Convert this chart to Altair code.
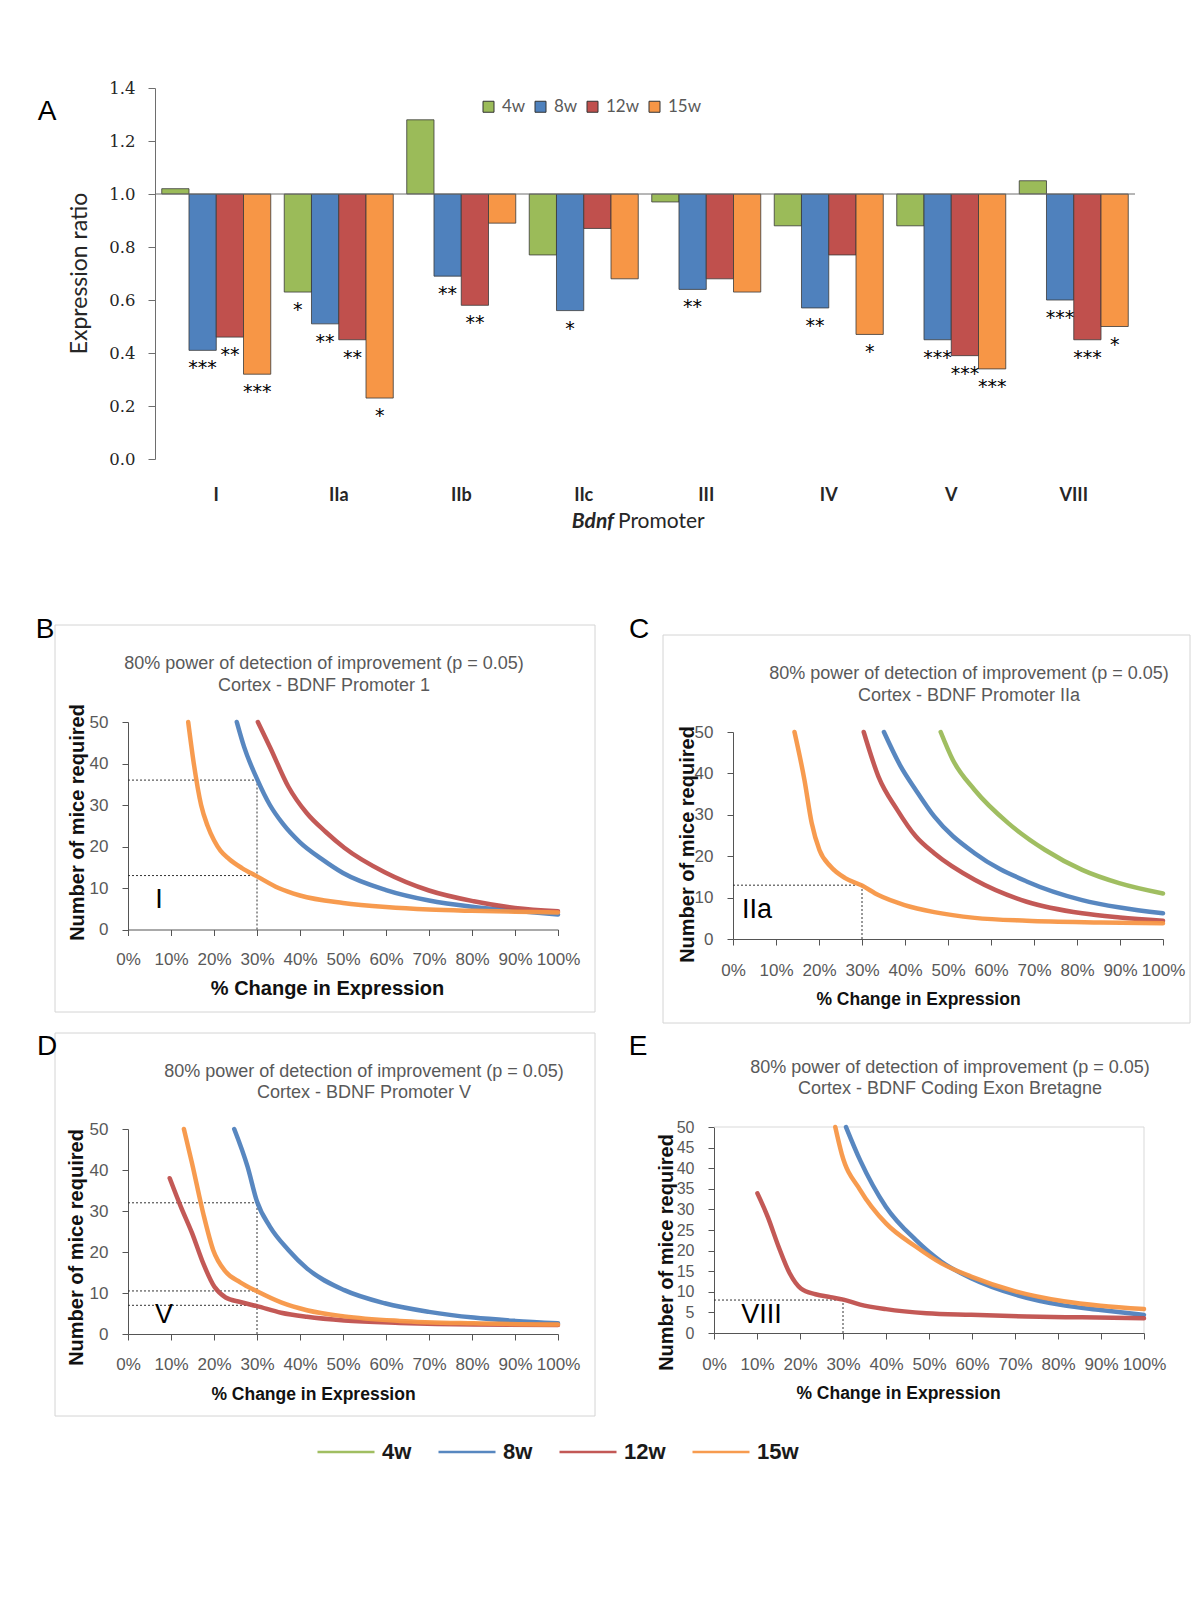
import altair as alt
import pandas as pd

W, H = 1184, 1560

FONT_SANS = "Liberation Sans"
FONT_CAL = "Lato"
FONT_SERIF = "DejaVu Serif"
AXIS_GREY = "#555555"
LABEL_GREY = "#595959"

# ---------------- panel A data ----------------
PROMOTERS = ["I", "IIa", "IIb", "IIc", "III", "IV", "V", "VIII"]
AGES = ["4w", "8w", "12w", "15w"]
AGE_COLORS = ["#9BBB59", "#4F81BD", "#C0504D", "#F79646"]

RATIO_4W = [1.02, 0.63, 1.28, 0.77, 0.97, 0.88, 0.88, 1.05]
RATIO_8W = [0.41, 0.51, 0.69, 0.56, 0.64, 0.57, 0.45, 0.60]
RATIO_12W = [0.46, 0.45, 0.58, 0.87, 0.68, 0.77, 0.39, 0.45]
RATIO_15W = [0.32, 0.23, 0.89, 0.68, 0.63, 0.47, 0.34, 0.50]

STARS_4W = ["", "*", "", "", "", "", "", ""]
STARS_8W = ["***", "**", "**", "*", "**", "**", "***", "***"]
STARS_12W = ["**", "**", "**", "", "", "", "***", "***"]
STARS_15W = ["***", "*", "", "", "", "*", "***", "*"]

RATIO_TICKS = [0.0, 0.2, 0.4, 0.6, 0.8, 1.0, 1.2, 1.4]
PCT_TICKS = [0, 10, 20, 30, 40, 50, 60, 70, 80, 90, 100]
MICE_TICKS = [0, 10, 20, 30, 40, 50]
MICE_TICKS_FINE = [0, 5, 10, 15, 20, 25, 30, 35, 40, 45, 50]

# ---------------- panel B (Promoter I) ----------------
B_8W_X = [25.3, 27, 30, 33, 36, 40, 45, 50, 60, 70, 80, 90, 100]
B_8W_Y = [50, 44, 36.3, 30, 25.5, 21, 17, 13.6, 9.5, 7.0, 5.5, 4.5, 3.6]
B_12W_X = [30.2, 33, 37.3, 41.6, 46, 50.3, 59.7, 70, 80.4, 90, 100]
B_12W_Y = [50, 44, 34.4, 28, 23.5, 19.7, 13.8, 9.4, 6.8, 5.2, 4.4]
B_15W_X = [14, 15.3, 17, 18.5, 20, 21.5, 23.5, 26.5, 30, 35, 40, 50, 60, 70, 80, 90, 100]
B_15W_Y = [50, 40, 30, 25, 21.5, 19, 17, 14.8, 12.8, 10, 8.2, 6.4, 5.4, 4.8, 4.5, 4.3, 4.1]
B_REF_X = 30
B_REF_Y = [36, 13]

# ---------------- panel C (Promoter IIa) ----------------
C_4W_X = [48.3, 51.1, 56.2, 64, 72.6, 81.2, 89.8, 100]
C_4W_Y = [50, 43.3, 36, 28, 21.5, 16.7, 13.5, 11.0]
C_8W_X = [35.1, 39, 42.5, 46.8, 56.2, 68.3, 81.2, 90, 100]
C_8W_Y = [50, 41.7, 36, 29.6, 20.7, 13.9, 9.4, 7.6, 6.2]
C_12W_X = [30.4, 33.8, 38.2, 42.5, 46.8, 56.2, 68.3, 81.2, 90, 100]
C_12W_Y = [50, 39.3, 31.2, 24.8, 20.7, 14.3, 9.0, 6.2, 5.2, 4.4]
C_15W_X = [14.3, 16.6, 18.3, 20.1, 22.7, 26.1, 30, 33.8, 39.9, 46.8, 56.2, 68.3, 85.5, 100]
C_15W_Y = [50, 38.5, 28, 21.5, 17.5, 14.7, 12.9, 10.6, 8.2, 6.5, 5.1, 4.4, 4.0, 3.8]
C_REF_X = 30
C_REF_Y = [13]

# ---------------- panel D (Promoter V) ----------------
D_8W_X = [24.7, 27.8, 30, 33, 37.3, 41.6, 50.3, 59.7, 70, 80.4, 90, 100]
D_8W_Y = [50, 40.8, 32.3, 26.2, 20.5, 16, 10.7, 7.5, 5.4, 4.0, 3.2, 2.6]
D_12W_X = [9.7, 12.3, 14.9, 17.5, 20.1, 22.7, 26.1, 30, 35.6, 41.6, 50.3, 63.2, 80.4, 100]
D_12W_Y = [38, 31, 24.6, 17.2, 11.5, 8.9, 7.8, 6.8, 5.2, 4.2, 3.3, 2.7, 2.3, 2.2]
D_15W_X = [13, 14.9, 17.5, 19.8, 22.7, 26.1, 30, 35.6, 41.6, 50.3, 63.2, 80.4, 100]
D_15W_Y = [50, 41.6, 29.4, 20.5, 15.2, 12.6, 10.4, 7.7, 5.8, 4.3, 3.2, 2.6, 2.3]
D_REF_X = 30
D_REF_Y = [32, 10.5, 7]

# ---------------- panel E (Coding exon) ----------------
E_8W_X = [30.7, 34, 40, 46.9, 52.9, 59.8, 70.1, 81.3, 89.9, 100]
E_8W_Y = [50, 41.9, 30.6, 22.6, 17.3, 13.3, 9.3, 6.7, 5.6, 4.4]
E_12W_X = [10.1, 12.5, 15, 17.6, 20.2, 23.6, 27.1, 30.1, 34, 40, 49.4, 59.8, 72.7, 85.6, 100]
E_12W_Y = [33.9, 28.2, 21, 14.5, 10.8, 9.4, 8.7, 8.1, 6.9, 5.8, 4.8, 4.4, 4.0, 3.8, 3.6]
E_15W_X = [28.2, 29.7, 34, 40, 46.9, 52.9, 59.8, 70.1, 81.3, 89.9, 100]
E_15W_Y = [50, 43.5, 34.7, 26.6, 21, 16.9, 13.7, 10.1, 7.7, 6.6, 5.8]
E_REF_X = 30
E_REF_Y = [8]

DUMMY = pd.DataFrame({"k": [0]})


# ---------------- panel A ----------------
rows = []
for age, vals, stars in zip(AGES, [RATIO_4W, RATIO_8W, RATIO_12W, RATIO_15W],
                            [STARS_4W, STARS_8W, STARS_12W, STARS_15W]):
    for p, v, s in zip(PROMOTERS, vals, stars):
        rows.append({"promoter": p, "age": age, "ratio": v, "stars": s, "base": 1.0})
df_a = pd.DataFrame(rows)


def xa_scale():
    return alt.Scale(domain=PROMOTERS, range=[147, 1127], paddingInner=0.11, paddingOuter=0.055)


def ya_scale():
    return alt.Scale(domain=[0, 1.4], range=[451, 80], nice=False, zero=False)


def xo_scale():
    return alt.Scale(domain=AGES, paddingInner=0, paddingOuter=0)


xA_axis = alt.Axis(orient="bottom", offset=451 - H, title=None, domain=False, ticks=False,
                   labelPadding=27, labelAngle=0, labelFont=FONT_CAL, labelFontSize=18,
                   labelFontWeight="bold", labelColor="#262626", grid=False)
yA_axis = alt.Axis(orient="left", offset=-147, values=RATIO_TICKS, format=".1f", tickSize=7,
                   tickColor="#6e6e6e", domainColor="#6e6e6e", labelPadding=13,
                   labelFont=FONT_SERIF, labelFontSize=16.5, labelColor="#262626", grid=False,
                   title="Expression ratio", titleX=-76, titleY=265, titleAngle=270,
                   titleAlign="center", titleBaseline="middle", titleFont=FONT_CAL,
                   titleFontSize=23, titleFontWeight="normal", titleColor="#262626")

bars = alt.Chart(df_a).mark_bar(stroke="#3a3a3a", strokeWidth=0.8).encode(
    x=alt.X("promoter:N", sort=PROMOTERS, scale=xa_scale(), axis=xA_axis),
    xOffset=alt.XOffset("age:N", sort=AGES, scale=xo_scale()),
    y=alt.Y("ratio:Q", scale=ya_scale(), axis=yA_axis),
    y2=alt.Y2("base:Q"),
    color=alt.Color("age:N", sort=AGES, scale=alt.Scale(domain=AGES, range=AGE_COLORS),
                    legend=alt.Legend(orient="none", legendX=472, legendY=90, direction="horizontal",
                                      title=None, symbolType="square", symbolSize=121,
                                      symbolStrokeColor="#333333", symbolStrokeWidth=1,
                                      labelFont=FONT_CAL, labelFontSize=17, labelColor=LABEL_GREY,
                                      labelOffset=5, columnPadding=6, padding=0)),
)
baseline = alt.Chart(pd.DataFrame({"one": [1.0]})).mark_rule(color="#6e6e6e", strokeWidth=1).encode(
    x=alt.value(147), x2=alt.value(1127), y=alt.Y("one:Q", scale=ya_scale(), axis=None))
stars = alt.Chart(df_a).mark_text(baseline="top", dy=9, fontSize=19, font="DejaVu Sans",
                                  color="black").encode(
    x=alt.X("promoter:N", sort=PROMOTERS, scale=xa_scale(), axis=None),
    xOffset=alt.XOffset("age:N", sort=AGES, scale=xo_scale()),
    y=alt.Y("ratio:Q", scale=ya_scale(), axis=None),
    text="stars:N")

panel_a = [bars, baseline, stars]


# ---------------- curve panels ----------------
def curve_frame(series):
    out = []
    for age, xs, ys in series:
        for xv, yv in zip(xs, ys):
            out.append({"age": age, "pct": xv, "mice": yv})
    return pd.DataFrame(out)


def curve_panel(df, ref_x, ref_ys, xr, yr, yticks, ylab_size, xlab_pad, xt_x, xt_y, xt_size,
                yt_x, yt_y, frame=False, legend=None):
    def xs():
        return alt.Scale(domain=[0, 100], range=xr, nice=False, zero=False)

    def ys():
        return alt.Scale(domain=[0, 50], range=yr, nice=False, zero=False)

    x_axis = alt.Axis(orient="bottom", offset=yr[0] - H, values=PCT_TICKS,
                      labelExpr="datum.value + '%'", labelFlush=False, labelOverlap=False,
                      tickSize=6, tickColor=AXIS_GREY, domainColor=AXIS_GREY,
                      labelFont=FONT_SANS, labelFontSize=17, labelColor=LABEL_GREY,
                      labelPadding=xlab_pad, grid=False,
                      title="% Change in Expression", titleX=xt_x, titleY=xt_y,
                      titleAlign="center", titleBaseline="middle", titleAngle=0,
                      titleFont=FONT_SANS, titleFontSize=xt_size, titleFontWeight="bold",
                      titleColor="#111111")
    y_axis = alt.Axis(orient="left", offset=-xr[0], values=yticks, tickSize=6,
                      tickColor=AXIS_GREY, domainColor=AXIS_GREY, labelPadding=14,
                      labelFont=FONT_SANS, labelFontSize=ylab_size, labelColor=LABEL_GREY,
                      labelFlush=False, labelOverlap=False, grid=False,
                      title="Number of mice required", titleX=yt_x - xr[0], titleY=yt_y,
                      titleAngle=270, titleAlign="center", titleBaseline="middle",
                      titleFont=FONT_SANS, titleFontSize=20, titleFontWeight="bold",
                      titleColor="#111111")

    ref_df = pd.DataFrame({"zero": [0.0] * len(ref_ys), "rx": [ref_x] * len(ref_ys), "ry": ref_ys})
    vref_df = pd.DataFrame({"zero": [0.0], "rx": [ref_x], "ry": [max(ref_ys)]})
    dot = dict(strokeDash=[2, 2], color="#333333", strokeWidth=1)
    hrules = alt.Chart(ref_df).mark_rule(**dot).encode(
        x=alt.X("zero:Q", scale=xs(), axis=None), x2="rx:Q",
        y=alt.Y("ry:Q", scale=ys(), axis=None))
    vrule = alt.Chart(vref_df).mark_rule(**dot).encode(
        x=alt.X("rx:Q", scale=xs(), axis=None),
        y=alt.Y("zero:Q", scale=ys(), axis=None), y2="ry:Q")

    lines = alt.Chart(df).mark_line(strokeWidth=4.5, interpolate="monotone", opacity=0.95,
                                    strokeCap="round").encode(
        x=alt.X("pct:Q", scale=xs(), axis=x_axis),
        y=alt.Y("mice:Q", scale=ys(), axis=y_axis),
        color=alt.Color("age:N", sort=AGES, scale=alt.Scale(domain=AGES, range=AGE_COLORS),
                        legend=legend),
    )
    layers = [hrules, vrule]
    if frame:
        fr = pd.DataFrame({"zero": [0.0], "top": [50.0], "right": [100.0]})
        layers.append(alt.Chart(fr).mark_rule(color="#d9d9d9", strokeWidth=1).encode(
            x=alt.X("zero:Q", scale=xs(), axis=None), x2="right:Q",
            y=alt.Y("top:Q", scale=ys(), axis=None)))
        layers.append(alt.Chart(fr).mark_rule(color="#d9d9d9", strokeWidth=1).encode(
            x=alt.X("right:Q", scale=xs(), axis=None),
            y=alt.Y("zero:Q", scale=ys(), axis=None), y2="top:Q"))
    layers.append(lines)
    return layers


df_b = curve_frame([("8w", B_8W_X, B_8W_Y), ("12w", B_12W_X, B_12W_Y), ("15w", B_15W_X, B_15W_Y)])
df_c = curve_frame([("4w", C_4W_X, C_4W_Y), ("8w", C_8W_X, C_8W_Y), ("12w", C_12W_X, C_12W_Y),
                    ("15w", C_15W_X, C_15W_Y)])
df_d = curve_frame([("8w", D_8W_X, D_8W_Y), ("12w", D_12W_X, D_12W_Y), ("15w", D_15W_X, D_15W_Y)])
df_e = curve_frame([("8w", E_8W_X, E_8W_Y), ("12w", E_12W_X, E_12W_Y), ("15w", E_15W_X, E_15W_Y)])

bottom_legend = alt.Legend(orient="none", legendX=308, legendY=1414, direction="horizontal",
                           title=None, symbolType="stroke", symbolSize=3249, symbolStrokeWidth=2.5,
                           labelFont=FONT_SANS, labelFontSize=22, labelFontWeight="bold",
                           labelColor="#1a1a1a", labelOffset=6, columnPadding=21, padding=0)

panel_b = curve_panel(df_b, B_REF_X, B_REF_Y, [120, 550], [921.5, 714], MICE_TICKS, 17, 15.5,
                      319, 58.5, 20, 69.5, 814, legend=None)
panel_c = curve_panel(df_c, C_REF_X, C_REF_Y, [725, 1155], [931, 724], MICE_TICKS, 17, 17,
                      910, 60, 17.5, 679, 836, legend=bottom_legend)
panel_d = curve_panel(df_d, D_REF_X, D_REF_Y, [120, 550], [1326, 1121], MICE_TICKS, 17, 16,
                      305, 60, 17.5, 68, 1239, legend=None)
panel_e = curve_panel(df_e, E_REF_X, E_REF_Y, [706, 1136], [1325, 1119], MICE_TICKS_FINE, 16, 17,
                      890, 60, 17.5, 658, 1244, frame=True, legend=None)


# ---------------- annotations ----------------
def label(text, x, y, size, font=FONT_SANS, color="black", weight="normal", align="center",
          style="normal", line_height=None):
    kw = dict(text=text, font=font, fontSize=size, color=color, fontWeight=weight, align=align,
              baseline="middle", fontStyle=style)
    if line_height is not None:
        kw["lineHeight"] = line_height
    return alt.Chart(DUMMY).mark_text(**kw).encode(x=alt.value(x), y=alt.value(y))


def box(x0, y0, x1, y1):
    return alt.Chart(DUMMY).mark_rect(fillOpacity=0, stroke="#d4d4d4", strokeWidth=1).encode(
        x=alt.value(x0), x2=alt.value(x1), y=alt.value(y0), y2=alt.value(y1))


TITLE1 = "80% power of detection of improvement  (p = 0.05)"
annotations = [
    label("A", 39, 104, 28),
    label("B", 37, 622, 28),
    label("C", 631, 622, 28),
    label("D", 39, 1039, 28),
    label("E", 630, 1039, 28),
    label([TITLE1, "Cortex - BDNF  Promoter 1"], 316, 656, 18, color=LABEL_GREY, line_height=22),
    label([TITLE1, "Cortex - BDNF  Promoter IIa"], 961, 665.5, 18, color=LABEL_GREY, line_height=22),
    label([TITLE1, "Cortex - BDNF  Promoter V"], 356, 1064, 18, color=LABEL_GREY, line_height=21),
    label([TITLE1, "Cortex - BDNF  Coding  Exon Bretagne"], 942, 1059.5, 18, color=LABEL_GREY,
          line_height=21),
    label("I", 151, 892, 27),
    label("IIa", 749, 902, 27),
    label("V", 156, 1307, 27),
    label("VIII", 753.5, 1307, 27),
    label("Bdnf", 606, 514, 21, font=FONT_CAL, weight="bold", style="italic", align="right",
          color="#262626"),
    label("Promoter", 610, 514, 21, font=FONT_CAL, align="left", color="#262626"),
]

boxes = [box(47, 617, 587, 1004), box(655, 627, 1182, 1015), box(47, 1025, 587, 1408)]

chart = alt.layer(
    *boxes, *panel_a, *panel_b, *panel_c, *panel_d, *panel_e, *annotations
).resolve_scale(
    x="independent", y="independent", color="independent"
).properties(
    width=W, height=H, padding=0
).configure_view(stroke=None)

chart.save("out.html", embed_options={"renderer": "svg", "actions": False})
